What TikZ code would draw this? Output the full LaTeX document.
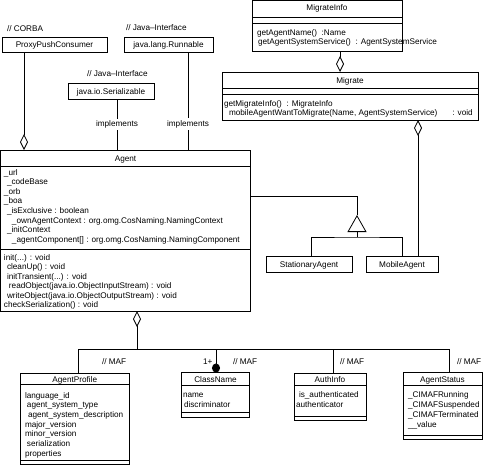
\documentclass[tikz,border=0pt]{standalone}
\usepackage{fontspec}
\setmainfont{Liberation Sans}
\usetikzlibrary{arrows.meta}
\newcommand\compline[2]{\draw (#1.west |- 0,#2) -- (#1.east |- 0,#2);}
\newcommand\threedots{...}

\begin{document}
\begin{tikzpicture}[x=1pt,y=-1pt,line width=0.8pt,
    every node/.style={font=\fontsize{8.2}{9.6}\selectfont,inner sep=0pt,outer sep=0pt},
    classbox/.style={draw,rectangle,anchor=north west},
    member/.style={anchor=base west},
    classtitle/.style={anchor=base},
    stereo/.style={anchor=base west},
    agg/.style={-{Diamond[open,length=16pt,width=8pt]}},
    lbl/.style={fill=white,inner xsep=1pt,inner ysep=2pt}]
\useasboundingbox (0,0) rectangle (487,469);

% class boxes
\node[classbox,minimum width=105pt,minimum height=15pt] (proxy) at (2,37) {};
\node[classbox,minimum width=89pt,minimum height=15pt] (runnable) at (124,37) {};
\node[classbox,minimum width=86pt,minimum height=16pt] (serial) at (68,83) {};
\node[classbox,minimum width=150pt,minimum height=50.5pt] (minfo) at (252,0.5) {};
\node[classbox,minimum width=256pt,minimum height=48pt] (migrate) at (222,72) {};
\node[classbox,minimum width=250pt,minimum height=161pt] (agent) at (0.5,150) {};
\node[classbox,minimum width=86pt,minimum height=16pt] (stationary) at (266,256) {};
\node[classbox,minimum width=72pt,minimum height=16pt] (mobile) at (366,256) {};
\node[classbox,minimum width=108.5pt,minimum height=91.5pt] (profile) at (20.5,373) {};
\node[classbox,minimum width=68pt,minimum height=44.5pt] (classname) at (181.5,372.5) {};
\node[classbox,minimum width=72pt,minimum height=47pt] (auth) at (294,373) {};
\node[classbox,minimum width=79pt,minimum height=67pt] (status) at (403,372) {};

\compline{minfo}{17} \compline{minfo}{23}
\compline{migrate}{88} \compline{migrate}{94}
\compline{agent}{166} \compline{agent}{249.5}
\compline{profile}{384.5} \compline{profile}{460}
\compline{classname}{385} \compline{classname}{412}
\compline{auth}{385} \compline{auth}{416}
\compline{status}{385} \compline{status}{435}

% titles
\node[classtitle] (proxy-t) at (54.5,47.5) {ProxyPushConsumer};
\node[classtitle] (runnable-t) at (168.5,47.5) {java.lang.Runnable};
\node[classtitle] (serial-t) at (111,94) {java.io.Serializable};
\node[classtitle] (minfo-t) at (327,10.5) {MigrateInfo};
\node[classtitle] (migrate-t) at (350,83.5) {Migrate};
\node[classtitle] (agent-t) at (125.5,161) {Agent};
\node[classtitle] (stationary-t) at (309,267) {StationaryAgent};
\node[classtitle] (mobile-t) at (402,267) {MobileAgent};
\node[classtitle] (profile-t) at (74.75,382) {AgentProfile};
\node[classtitle] (classname-t) at (215.5,382) {ClassName};
\node[classtitle] (auth-t) at (330,382) {AuthInfo};
\node[classtitle] (status-t) at (442.5,382) {AgentStatus};

% members
\node[member] (minfo-m1) at (257,35) {getAgentName()~~:Name};
\node[member] (minfo-m2) at (258,44) {getAgentSystemService()~~: AgentSystemService};
\node[member] (migrate-m1) at (224,106) {getMigrateInfo()~~: MigrateInfo};
\node[member] (migrate-m2) at (229,115) {mobileAgentWantToMigrate(Name, AgentSystemService)\hspace{15pt}: void};
\foreach \dx/\t [count=\i] in {4/{\_url}, 7/{\_codeBase}, 4/{\_orb}, 4/{\_boa}, 7/{\_isExclusive : boolean},
    12/{\_ownAgentContext : org.omg.CosNaming.NamingContext}, 7/{\_initContext},
    12/{\_agentComponent[] : org.omg.CosNaming.NamingComponent}}
  \node[member] (agent-a\i) at ({\dx},{175+9.6*(\i-1)}) {\t};
\foreach \dx/\t [count=\i] in {4/{init(\threedots) : void}, 7/{cleanUp() : void}, 7/{initTransient(\threedots) : void},
    9/{readObject(java.io.ObjectInputStream) : void}, 7/{writeObject(java.io.ObjectOutputStream) : void},
    4/{checkSerialization() : void}}
  \node[member] (agent-o\i) at ({\dx},{260+9.5*(\i-1)}) {\t};
\foreach \dx/\t [count=\i] in {25/{language\_id}, 27/{agent\_system\_type}, 28/{agent\_system\_description},
    25/{major\_version}, 25/{minor\_version}, 27/{serialization}, 25/{properties}}
  \node[member] (profile-a\i) at ({\dx},{398+9.67*(\i-1)}) {\t};
\node[member] (classname-a1) at (183,397) {name};
\node[member] (classname-a2) at (184,407) {discriminator};
\node[member] (auth-a1) at (299,397) {is\_authenticated};
\node[member] (auth-a2) at (296,407) {authenticator};
\foreach \t [count=\i] in {{\_CIMAFRunning}, {\_CIMAFSuspended}, {\_CIMAFTerminated}, {\_\_value}}
  \node[member] (status-a\i) at ({408},{397+10*(\i-1)}) {\t};

% stereotypes
\node[stereo] (corba) at (7,31) {// CORBA};
\node[stereo] (java1) at (126,30) {// Java–Interface};
\node[stereo] (java2) at (87,76) {// Java–Interface};
\node[stereo] (maf1) at (102,364) {// MAF};
\node[stereo] (maf2) at (233,364) {// MAF};
\node[stereo] (maf3) at (340,364) {// MAF};
\node[stereo] (maf4) at (457,364) {// MAF};
\node[stereo] (mult) at (203,364) {1+};

% connectors
\draw[agg] (proxy.south -| 24,0) -- (agent.north -| 24,0);
\draw (serial.south -| 117,0) -- node[lbl] (impl1) {implements} (agent.north -| 117,0);
\draw (runnable.south -| 188,0) -- node[lbl,pos=0.735] (impl2) {implements} (agent.north -| 188,0);
\draw[agg] (minfo.south -| 340,0) -- (migrate.north -| 340,0);
\draw[agg] (mobile.north -| 418,0) -- (migrate.south -| 418,0);

\coordinate (gen) at (357,237);
\coordinate (genapex) at (357,215);
\draw[-{Triangle[open,length=17pt,width=19pt]}] (gen) -- (genapex);
\draw (agent.east |- 0,196) -| (genapex);
\draw (stationary.north -| 311,0) |- (gen) -| (mobile.north -| 402,0);

\coordinate (bus) at (137,349);
\draw[agg] (bus) -- (agent.south -| bus);
\draw (profile.north -| 78,0) -- (78,349) -- (449,349) -- (status.north -| 449,0);
\draw (auth.north -| 333,0) -- (333,349);
\draw[-{Circle[length=9pt,width=8pt]}] (216,349) -- (classname.north -| 216,0);
\end{tikzpicture}
\end{document}
